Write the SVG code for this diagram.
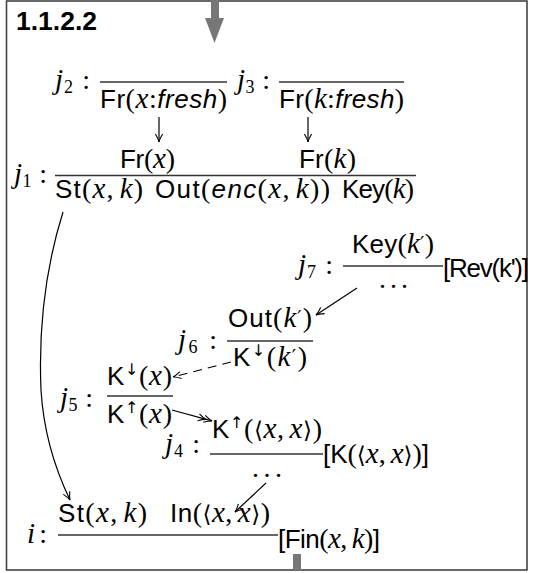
<svg xmlns="http://www.w3.org/2000/svg" width="533" height="573" viewBox="0 0 533 573">
<style>
text{font-family:"Liberation Sans",Arial,sans-serif;font-size:26px;fill:#000}
.m{font-family:"Liberation Serif","Times New Roman",serif;font-style:italic;font-size:29px}
.r{font-family:"Liberation Serif","Times New Roman",serif;font-style:normal;font-size:28px}
.i{font-style:italic}
.a{font-family:"DejaVu Sans",sans-serif;font-size:23px;font-style:normal}
.p{font-family:"DejaVu Serif",serif;font-size:19px;font-style:normal}
.sub{font-family:"Liberation Serif",serif;font-style:normal;font-size:18px}
.sup{font-family:"DejaVu Sans",sans-serif;font-size:16px;fill:#000}
.bar{stroke:#333;stroke-width:1.3}
.c{fill:none;stroke:#000;stroke-width:1.2}
.gray{fill:#777}
</style>
<defs>
<marker id="ah" viewBox="-10 -6 12 12" refX="0" refY="0" markerWidth="12" markerHeight="12" markerUnits="userSpaceOnUse" orient="auto">
<path d="M-8,-3.6 Q-3,-0.6 0,0 Q-3,0.6 -8,3.6" fill="none" stroke="#000" stroke-width="1.1"/>
</marker>
</defs>
<rect x="6.5" y="1" width="520.5" height="569" fill="#fff" stroke="#444" stroke-width="1.6"/>
<g id="flow-in"><rect class="gray" x="211" y="0" width="8" height="18"/><polygon class="gray" points="205,18 224,18 214.5,43"/></g>
<g id="flow-out"><rect class="gray" x="293" y="554" width="8" height="16"/></g>
<text x="16" y="30" font-weight="bold" font-size="28" textLength="81" lengthAdjust="spacingAndGlyphs">1.1.2.2</text>

<g id="node-j2">
<text x="55" y="89" textLength="35" lengthAdjust="spacing"><tspan class="m">j</tspan><tspan class="sub" dy="4">2</tspan><tspan class="r" dy="-4"> :</tspan></text>
<line class="bar" x1="100" y1="82" x2="227" y2="82"/>
<text x="100" y="108" textLength="127" lengthAdjust="spacing">Fr<tspan class="r">(</tspan><tspan class="m">x</tspan><tspan class="r">:</tspan><tspan class="i">fresh</tspan><tspan class="r">)</tspan></text>
</g>
<g id="node-j3">
<text x="237" y="89" textLength="33" lengthAdjust="spacing"><tspan class="m">j</tspan><tspan class="sub" dy="4">3</tspan><tspan class="r" dy="-4"> :</tspan></text>
<line class="bar" x1="279" y1="82" x2="404" y2="82"/>
<text x="279" y="108" textLength="125" lengthAdjust="spacing">Fr<tspan class="r">(</tspan><tspan class="m">k</tspan><tspan class="r">:</tspan><tspan class="i">fresh</tspan><tspan class="r">)</tspan></text>
</g>
<g id="node-j1">
<text x="120" y="168" textLength="55" lengthAdjust="spacing">Fr<tspan class="r">(</tspan><tspan class="m">x</tspan><tspan class="r">)</tspan></text>
<text x="299" y="168" textLength="57" lengthAdjust="spacing">Fr<tspan class="r">(</tspan><tspan class="m">k</tspan><tspan class="r">)</tspan></text>
<text x="14" y="183" textLength="33" lengthAdjust="spacing"><tspan class="m">j</tspan><tspan class="sub" dy="4">1</tspan><tspan class="r" dy="-4"> :</tspan></text>
<line class="bar" x1="55" y1="175.5" x2="416" y2="175.5"/>
<text x="55" y="198" textLength="88" lengthAdjust="spacing">St<tspan class="r">(</tspan><tspan class="m">x</tspan><tspan class="r">,</tspan><tspan class="m" dx="5">k</tspan><tspan class="r">)</tspan></text>
<text x="155" y="198" textLength="175" lengthAdjust="spacing">Out<tspan class="r">(</tspan><tspan class="i">enc</tspan><tspan class="r">(</tspan><tspan class="m">x</tspan><tspan class="r">,</tspan><tspan class="m" dx="5">k</tspan><tspan class="r">))</tspan></text>
<text x="342" y="198" textLength="72" lengthAdjust="spacing">Key<tspan class="r">(</tspan><tspan class="m">k</tspan><tspan class="r">)</tspan></text>
</g>
<g id="node-j7">
<text x="352" y="253" textLength="82" lengthAdjust="spacing">Key<tspan class="r">(</tspan><tspan class="m">k</tspan><tspan class="p" dy="-3">′</tspan><tspan class="r" dy="3">)</tspan></text>
<text x="298" y="274" textLength="35" lengthAdjust="spacing"><tspan class="m">j</tspan><tspan class="sub" dy="4">7</tspan><tspan class="r" dy="-4"> :</tspan></text>
<line class="bar" x1="343" y1="266" x2="443" y2="266"/>
<text x="443" y="277" font-size="24" textLength="86" lengthAdjust="spacing">[Rev(k')]</text>
<text class="r" x="379" y="288" textLength="29" lengthAdjust="spacing">. . .</text>
</g>
<g id="node-j6">
<text x="228" y="327" textLength="84" lengthAdjust="spacing">Out<tspan class="r">(</tspan><tspan class="m">k</tspan><tspan class="p" dy="-3">′</tspan><tspan class="r" dy="3">)</tspan></text>
<text x="178" y="349" textLength="39" lengthAdjust="spacing"><tspan class="m">j</tspan><tspan class="sub" dy="4">6</tspan><tspan class="r" dy="-4"> :</tspan></text>
<line class="bar" x1="227" y1="341" x2="313" y2="341"/>
<text x="233" y="366" textLength="74" lengthAdjust="spacing">K<tspan class="sup" dy="-10">↓</tspan><tspan class="r" dy="10">(</tspan><tspan class="m">k</tspan><tspan class="p" dy="-3">′</tspan><tspan class="r" dy="3">)</tspan></text>
</g>
<g id="node-j5">
<text x="107" y="385" textLength="65" lengthAdjust="spacing">K<tspan class="sup" dy="-10">↓</tspan><tspan class="r" dy="10">(</tspan><tspan class="m">x</tspan><tspan class="r">)</tspan></text>
<text x="60" y="407" textLength="33" lengthAdjust="spacing"><tspan class="m">j</tspan><tspan class="sub" dy="4">5</tspan><tspan class="r" dy="-4"> :</tspan></text>
<line class="bar" x1="107" y1="396" x2="173" y2="396"/>
<text x="107" y="423" textLength="65" lengthAdjust="spacing">K<tspan class="sup" dy="-10">↑</tspan><tspan class="r" dy="10">(</tspan><tspan class="m">x</tspan><tspan class="r">)</tspan></text>
</g>
<g id="node-j4">
<text x="212" y="438" textLength="110" lengthAdjust="spacing">K<tspan class="sup" dy="-10">↑</tspan><tspan class="r" dy="10">(</tspan><tspan class="a">⟨</tspan><tspan class="m">x</tspan><tspan class="r">,</tspan><tspan class="m" dx="5">x</tspan><tspan class="a">⟩</tspan><tspan class="r">)</tspan></text>
<text x="165" y="453" textLength="35" lengthAdjust="spacing"><tspan class="m">j</tspan><tspan class="sub" dy="4">4</tspan><tspan class="r" dy="-4"> :</tspan></text>
<line class="bar" x1="210" y1="454" x2="323" y2="454"/>
<text x="323" y="463" textLength="106" lengthAdjust="spacing">[K<tspan class="r">(</tspan><tspan class="a">⟨</tspan><tspan class="m">x</tspan><tspan class="r">,</tspan><tspan class="m" dx="5">x</tspan><tspan class="a">⟩</tspan><tspan class="r">)</tspan>]</text>
<text class="r" x="252" y="477" textLength="30" lengthAdjust="spacing">. . .</text>
</g>
<g id="node-i">
<text x="58" y="522" textLength="89" lengthAdjust="spacing">St<tspan class="r">(</tspan><tspan class="m">x</tspan><tspan class="r">,</tspan><tspan class="m" dx="5">k</tspan><tspan class="r">)</tspan></text>
<text x="170" y="522" textLength="100" lengthAdjust="spacing">In<tspan class="r">(</tspan><tspan class="a">⟨</tspan><tspan class="m">x</tspan><tspan class="r">,</tspan><tspan class="m" dx="5">x</tspan><tspan class="a">⟩</tspan><tspan class="r">)</tspan></text>
<text x="27" y="543" textLength="20" lengthAdjust="spacing"><tspan class="m">i</tspan><tspan class="r"> :</tspan></text>
<line class="bar" x1="58" y1="535" x2="278" y2="535"/>
<text x="278" y="548" textLength="102" lengthAdjust="spacing">[Fin<tspan class="r">(</tspan><tspan class="m">x</tspan><tspan class="r">,</tspan><tspan class="m" dx="5">k</tspan><tspan class="r">)</tspan>]</text>
</g>
<g id="connectors">
<line class="c" x1="159" y1="117" x2="159" y2="142" marker-end="url(#ah)"/>
<line class="c" x1="308" y1="117" x2="308" y2="142" marker-end="url(#ah)"/>
<line class="c" x1="357" y1="288" x2="316" y2="315" marker-end="url(#ah)"/>
<line class="c" x1="231" y1="362" x2="173" y2="377" stroke-dasharray="9,6" marker-end="url(#ah)"/>
<polyline class="c" points="172,410 206.2,419.4 212,421" marker-mid="url(#ah)" marker-end="url(#ah)"/>
<line class="c" x1="266" y1="483" x2="235" y2="512" marker-end="url(#ah)"/>
<path class="c" d="M63,212 C48,260 38,320 41,390 C44,440 58,475 70,500" marker-end="url(#ah)"/>
</g>
</svg>
